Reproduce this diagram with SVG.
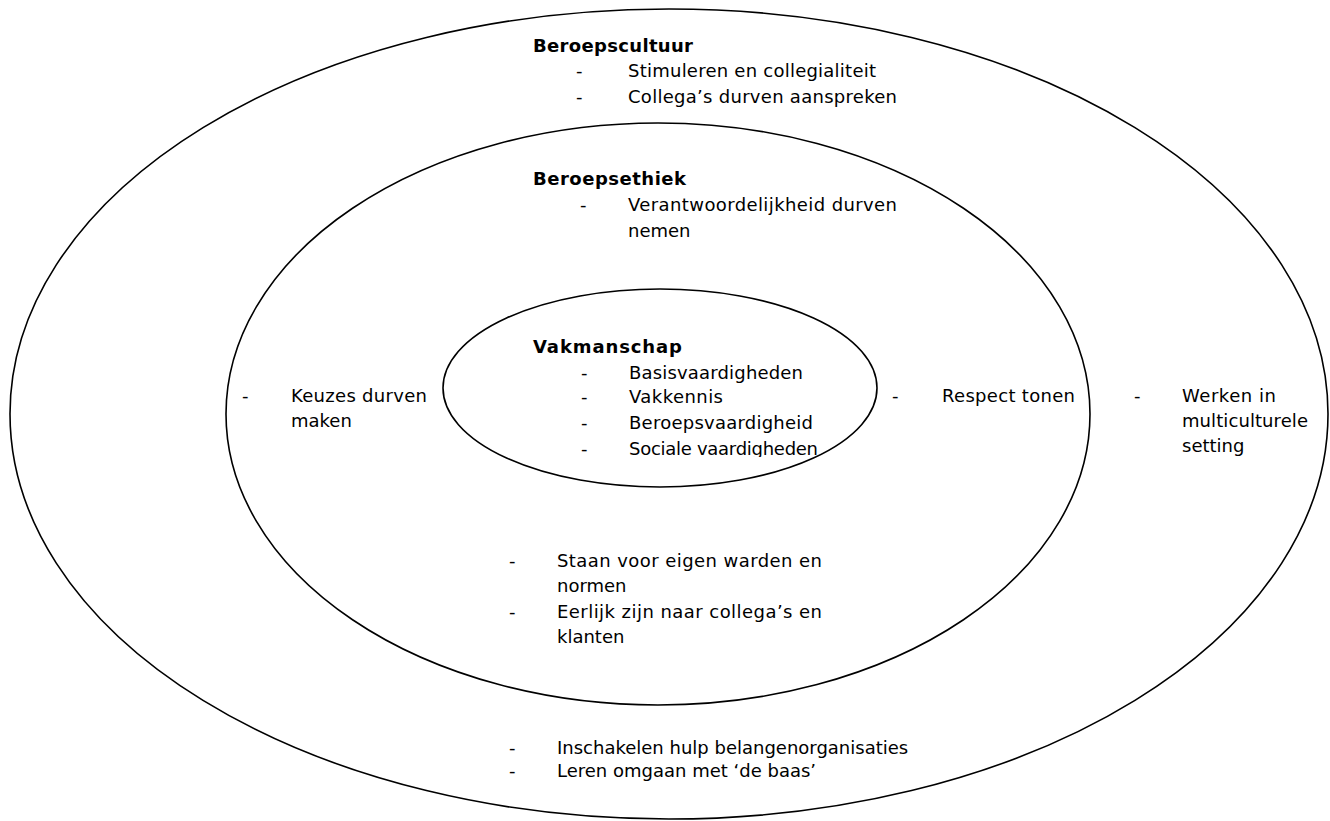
<svg xmlns="http://www.w3.org/2000/svg" width="1330" height="821" viewBox="0 0 1330 821">
<style>
.ring{fill:none;stroke:#000;stroke-width:1.6}
text{font-family:"DejaVu Sans","Verdana",sans-serif;font-size:18px;fill:#000}
.b{font-weight:bold}
</style>
<defs>
<clipPath id="cut"><rect x="430" y="280" width="450" height="177"/></clipPath>
</defs>
<rect width="1330" height="821" fill="#fff"/>
<g id="outer">
<ellipse class="ring" cx="669" cy="414" rx="659" ry="405"/>
<text class="b" x="533" y="52" textLength="160">Beroepscultuur</text>
<text x="576" y="77">-</text><text x="628" y="77" textLength="248">Stimuleren en collegialiteit</text>
<text x="576" y="103">-</text><text x="628" y="103" textLength="269">Collega’s durven aanspreken</text>
<text x="1134" y="402">-</text><text x="1182" y="402" textLength="94">Werken in</text>
<text x="1182" y="427" textLength="126">multiculturele</text>
<text x="1182" y="452">setting</text>
<text x="509" y="754">-</text><text x="557" y="754">Inschakelen hulp belangenorganisaties</text>
<text x="509" y="777">-</text><text x="557" y="777">Leren omgaan met ‘de baas’</text>
</g>
<g id="middle">
<ellipse class="ring" cx="658" cy="414" rx="432" ry="291"/>
<text class="b" x="533" y="185" textLength="153">Beroepsethiek</text>
<text x="580" y="211">-</text><text x="628" y="211" textLength="269">Verantwoordelijkheid durven</text>
<text x="628" y="237">nemen</text>
<text x="242" y="402">-</text><text x="291" y="402" textLength="136">Keuzes durven</text>
<text x="291" y="427">maken</text>
<text x="892" y="402">-</text><text x="942" y="402" textLength="133">Respect tonen</text>
<text x="509" y="567">-</text><text x="557" y="567" textLength="265">Staan voor eigen warden en</text>
<text x="557" y="592">normen</text>
<text x="509" y="618">-</text><text x="557" y="618" textLength="265">Eerlijk zijn naar collega’s en</text>
<text x="557" y="643">klanten</text>
</g>
<g id="inner">
<ellipse class="ring" cx="660" cy="388" rx="217" ry="99"/>
<text class="b" x="533" y="353" textLength="149">Vakmanschap</text>
<text x="581" y="379">-</text><text x="629" y="379" textLength="174">Basisvaardigheden</text>
<text x="581" y="403">-</text><text x="629" y="403" textLength="94">Vakkennis</text>
<text x="581" y="429">-</text><text x="629" y="429" textLength="184">Beroepsvaardigheid</text>
<g clip-path="url(#cut)"><text x="581" y="455">-</text><text x="629" y="455" textLength="189">Sociale vaardigheden</text></g>
</g>
<g id="connectors"/>
</svg>
